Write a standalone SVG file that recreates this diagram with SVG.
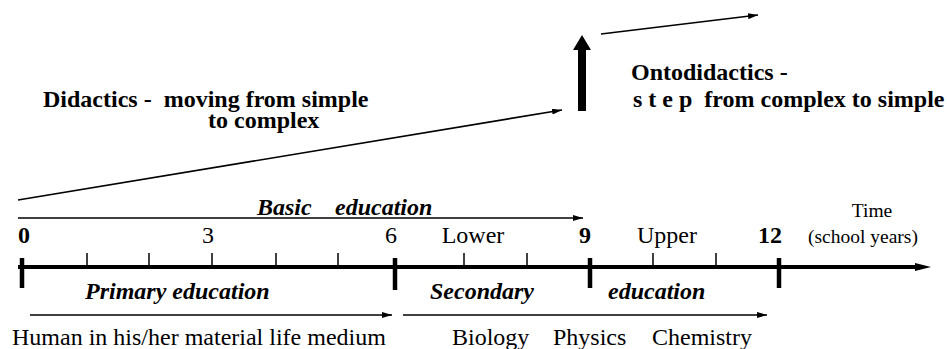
<svg xmlns="http://www.w3.org/2000/svg" width="947" height="349" viewBox="0 0 947 349">
<defs>
<marker id="ah" viewBox="0 0 10 6" refX="10" refY="3" markerWidth="10" markerHeight="6" markerUnits="userSpaceOnUse" orient="auto">
<path d="M0,0 L10,3 L0,6 Z" fill="#000"/>
</marker>
</defs>
<style>
.thin{stroke:#000;stroke-width:1.6;fill:none}
.tick{stroke:#000;stroke-width:1.5}
.big{stroke:#000;stroke-width:4.5}
</style>
<rect width="947" height="349" fill="#fff"/>
<g id="connectors">
<line class="thin" x1="18" y1="200" x2="562" y2="110" marker-end="url(#ah)"/>
<line class="thin" x1="601" y1="34" x2="758" y2="15" marker-end="url(#ah)"/>
<path d="M578,111 L578,50 L573,50 L582,35 L591,50 L586,50 L586,111 Z" fill="#000"/>
<line class="thin" x1="18" y1="218" x2="583" y2="218" marker-end="url(#ah)"/>
<line class="thin" x1="30" y1="315" x2="392" y2="315" marker-end="url(#ah)"/>
<line class="thin" x1="403" y1="315" x2="767" y2="315" marker-end="url(#ah)"/>
</g>
<g id="axis">
<line x1="18" y1="267" x2="918" y2="267" stroke="#000" stroke-width="4"/>
<path d="M915,263 L931,267 L915,271 Z" fill="#000"/>
<line class="big" x1="22" y1="258" x2="22" y2="288"/>
<line class="big" x1="395" y1="258" x2="395" y2="290"/>
<line class="big" x1="590" y1="258" x2="590" y2="288"/>
<line class="big" x1="779" y1="258" x2="779" y2="288"/>
<line class="tick" x1="87" y1="253" x2="87" y2="267"/>
<line class="tick" x1="149" y1="253" x2="149" y2="267"/>
<line class="tick" x1="212" y1="253" x2="212" y2="267"/>
<line class="tick" x1="276" y1="253" x2="276" y2="267"/>
<line class="tick" x1="338" y1="253" x2="338" y2="267"/>
<line class="tick" x1="464" y1="253" x2="464" y2="267"/>
<line class="tick" x1="527" y1="253" x2="527" y2="267"/>
<line class="tick" x1="653" y1="253" x2="653" y2="267"/>
<line class="tick" x1="716" y1="253" x2="716" y2="267"/>
</g>
<g font-family="Liberation Serif, serif" font-size="24" fill="#000">
<g id="didactics" font-weight="bold">
<text x="43" y="107" xml:space="preserve">Didactics -  moving from simple</text>
<text x="208" y="128">to complex</text>
</g>
<g id="ontodidactics" font-weight="bold">
<text x="631" y="80">Ontodidactics -</text>
<text x="633" y="107" xml:space="preserve">s t e p  from complex to simple</text>
</g>
<g id="basic" font-weight="bold" font-style="italic">
<text x="257" y="215">Basic</text>
<text x="335" y="215">education</text>
</g>
<g id="axis-labels">
<text x="18" y="243" font-weight="bold">0</text>
<text x="208" y="243" text-anchor="middle">3</text>
<text x="391" y="243" text-anchor="middle">6</text>
<text x="473" y="243" text-anchor="middle">Lower</text>
<text x="585" y="243" text-anchor="middle" font-weight="bold">9</text>
<text x="667" y="243" text-anchor="middle">Upper</text>
<text x="770" y="243" text-anchor="middle" font-weight="bold">12</text>
<text x="872" y="217" text-anchor="middle" font-size="19.5">Time</text>
<text x="863" y="243" text-anchor="middle" font-size="19.5">(school years)</text>
</g>
<g id="primary" font-weight="bold" font-style="italic">
<text x="85" y="299">Primary education</text>
</g>
<g id="secondary" font-weight="bold" font-style="italic">
<text x="430" y="299">Secondary</text>
<text x="608" y="299">education</text>
</g>
<g id="subjects">
<text x="12" y="345">Human in his/her material life medium</text>
<text x="452" y="345">Biology</text>
<text x="553" y="345">Physics</text>
<text x="652" y="345">Chemistry</text>
</g>
</g>
</svg>
